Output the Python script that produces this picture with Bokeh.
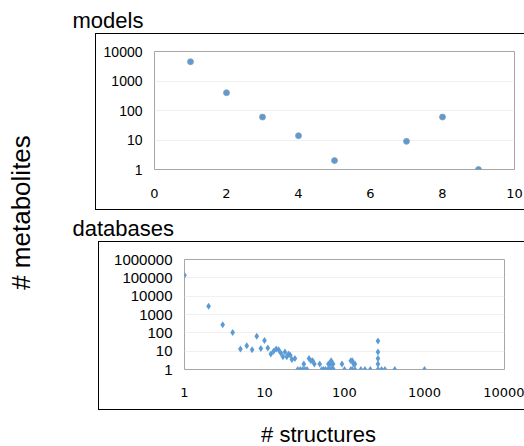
import math
from bokeh.plotting import figure
from bokeh.models import Range1d, FixedTicker, Label, Spacer
from bokeh.layouts import row, column
from bokeh.embed import file_html
from bokeh.resources import INLINE

# ---------------- data ----------------
model_x = [1, 2, 3, 4, 5, 7, 8, 9]
model_y = [4500, 400, 60, 14, 2, 9, 60, 1]
model_xticks = [0, 2, 4, 6, 8, 10]
model_yticks = [1, 10, 100, 1000, 10000]

db_x = [1, 2, 3, 4, 5, 6, 7, 8, 9, 10, 11, 12, 13, 14, 15, 16, 17, 18, 19, 20, 21, 22, 24,
        26, 28, 30, 32, 34, 31, 36, 38, 40, 42, 49,
        52, 55, 58, 62, 65, 68, 70, 73, 63, 66, 68, 70, 72,
        93, 100, 120, 125, 130, 135, 120, 125, 135, 160, 180, 210,
        262, 262, 262, 262, 262, 290, 320, 425, 1000]
db_y = [137000, 2800, 275, 105, 13, 20, 12, 65, 14, 38, 15, 7, 10, 13, 12, 8, 5, 9, 5, 7, 6, 3.5, 4,
        1, 1, 1, 1, 1, 2, 4, 3, 3, 2, 2,
        1, 1, 1, 1, 1, 1, 1, 1, 2, 2, 3, 2, 2,
        2, 1, 3, 3, 2, 2, 1, 1, 1, 1, 1, 1,
        36, 9, 4, 2, 1, 1, 1, 1, 1]
db_xticks = [1, 10, 100, 1000, 10000]
db_yticks = [1, 10, 100, 1000, 10000, 100000, 1000000]

title_top = "models"
title_bottom = "databases"
ylabel = "# metabolites"
xlabel = "# structures"

BLUE = "#5b9bd5"
FONT = "Liberation Sans"
FONT2 = "DejaVu Sans"
BOX = {"border-left": "1px solid black", "border-top": "1px solid black",
       "border-bottom": "1px solid black"}


def style(p, xticks, yticks, xfs, yfs, xstand, ystand):
    p.outline_line_color = "#a6a6a6"
    p.outline_line_width = 1
    p.xgrid.grid_line_color = None
    p.ygrid.grid_line_color = "#f0f0f0"
    p.ygrid.ticker = FixedTicker(ticks=yticks)
    for ax in (p.xaxis[0], p.yaxis[0]):
        ax.axis_line_color = None
        ax.major_tick_line_color = None
        ax.minor_tick_line_color = None
        ax.major_tick_in = 0
        ax.major_tick_out = 0
        ax.minor_tick_out = 0
        ax.major_label_text_color = "black"
    p.xaxis[0].ticker = FixedTicker(ticks=xticks)
    p.yaxis[0].ticker = FixedTicker(ticks=yticks)
    p.xaxis[0].major_label_overrides = {t: str(t) for t in xticks}
    p.yaxis[0].major_label_overrides = {t: str(t) for t in yticks}
    p.xaxis[0].major_label_text_font = FONT2
    p.xaxis[0].major_label_text_font_size = xfs
    p.yaxis[0].major_label_text_font = FONT
    p.yaxis[0].major_label_text_font_size = yfs
    p.xaxis[0].major_label_standoff = xstand
    p.yaxis[0].major_label_standoff = ystand
    p.background_fill_color = "white"
    p.border_fill_color = "white"


def text_strip(w, h, label):
    f = figure(width=w, height=h, x_range=Range1d(0, w), y_range=Range1d(0, h),
               toolbar_location=None, output_backend="svg",
               min_border_left=0, min_border_right=0, min_border_top=0, min_border_bottom=0)
    f.axis.visible = False
    f.grid.visible = False
    f.outline_line_color = None
    f.add_layout(label)
    return f


# ---------------- left label strip ----------------
pl = text_strip(60, 446, Label(x=20, y=234, text=ylabel, angle=math.pi / 2, text_align="center",
                               text_baseline="middle", text_font=FONT,
                               text_font_size="26px", text_color="black"))

# ---------------- models ----------------
tA = text_strip(464, 33, Label(x=12, y=13, text=title_top, text_font=FONT, text_font_size="22px",
                               text_baseline="middle", text_color="black"))
pa = figure(width=428, height=175, x_range=Range1d(0, 10), y_range=Range1d(1, 10000),
            y_axis_type="log", toolbar_location=None, output_backend="svg",
            min_border_left=58, min_border_right=10, min_border_top=17, min_border_bottom=40)
style(pa, model_xticks, model_yticks, "13px", "14px", 19, 12)
pa.scatter(model_x, model_y, marker="circle", size=6, fill_color=BLUE,
           line_color="#8d9db0", line_width=0.8)
rowA = row(Spacer(width=35, height=177), column(pa, styles=BOX))

# ---------------- databases ----------------
tB = text_strip(464, 31, Label(x=12, y=13, text=title_bottom, text_font=FONT, text_font_size="22px",
                               text_baseline="middle", text_color="black"))
pb = figure(width=425, height=167, x_range=Range1d(1, 10000), y_range=Range1d(1, 1000000),
            x_axis_type="log", y_axis_type="log", toolbar_location=None, output_backend="svg",
            min_border_left=85, min_border_right=20, min_border_top=17, min_border_bottom=40)
style(pb, db_xticks, db_yticks, "13px", "15px", 18, 12)
pb.scatter(db_x, db_y, marker="diamond", size=7, fill_color=BLUE, line_color=None)
rowB = row(Spacer(width=38, height=169), column(pb, styles=BOX))

xl = text_strip(464, 36, Label(x=258, y=12, text=xlabel, text_font=FONT, text_font_size="22px",
                               text_baseline="middle", text_align="center", text_color="black"))

layout = row(pl, column(tA, rowA, tB, rowB, xl))
open("out.html", "w").write(file_html(layout, INLINE))
